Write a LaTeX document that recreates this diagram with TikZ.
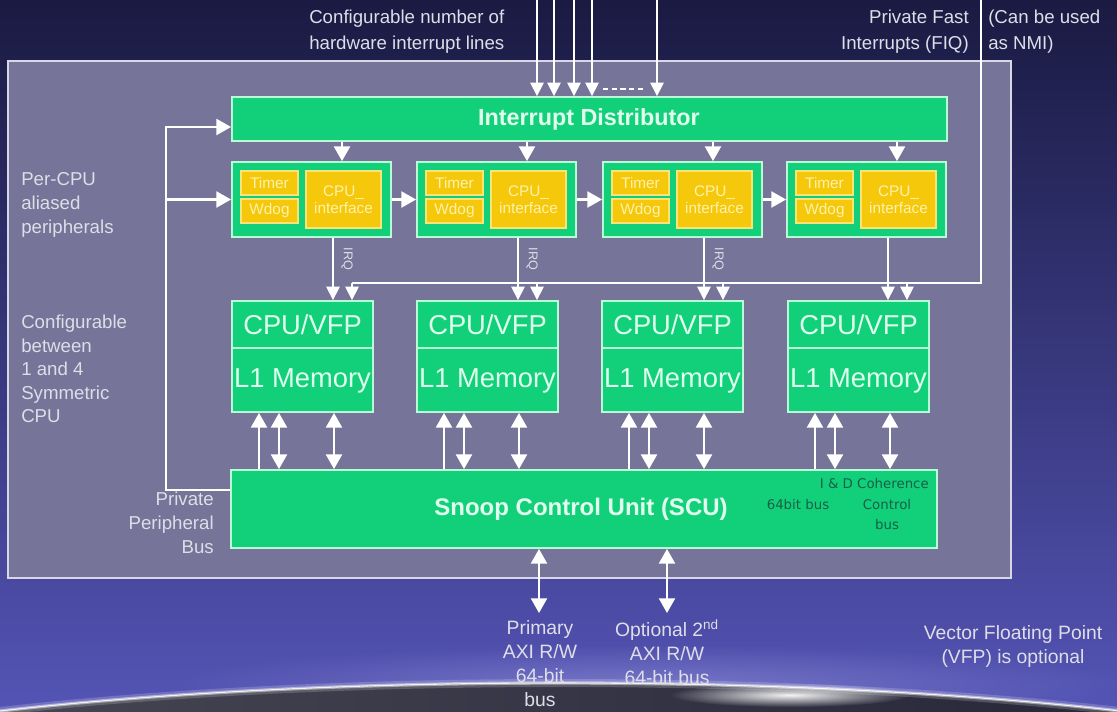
\documentclass[tikz,border=0pt]{standalone}
\usepackage{fontspec}
\setmainfont{Liberation Sans}
\newfontfamily\dejavu{DejaVu Sans}
\usetikzlibrary{arrows.meta,fit,fadings,calc}

\definecolor{skytop}{RGB}{26,26,66}
\definecolor{skymid}{RGB}{55,55,140}
\definecolor{skybot}{RGB}{84,84,182}
\definecolor{earthl}{RGB}{78,78,90}
\definecolor{earthr}{RGB}{30,30,50}
\definecolor{haze}{RGB}{160,160,225}
\definecolor{panelgray}{RGB}{118,116,152}
\definecolor{panelline}{RGB}{215,215,230}
\definecolor{chipgreen}{RGB}{18,208,122}
\definecolor{chipedge}{RGB}{185,250,215}
\definecolor{chiptext}{RGB}{225,255,238}
\definecolor{gold}{RGB}{245,200,12}
\definecolor{goldedge}{RGB}{250,228,120}
\definecolor{goldtext}{RGB}{255,242,170}
\definecolor{labelgray}{RGB}{222,222,232}
\definecolor{busink}{RGB}{22,95,72}

\tikzfading[name=glowfade, inner color=transparent!0, outer color=transparent!100]

\begin{document}
\begin{tikzpicture}[x=0.75pt, y=-0.75pt,
  >={Triangle[width=12pt,length=11pt]},
  greenbox/.style={draw=chipedge, fill=chipgreen, line width=1.4pt, inner sep=0pt},
  goldbox/.style={draw=goldedge, fill=gold, line width=0.8pt, inner sep=0pt},
  goldtag/.style={text=goldtext, font=\fontsize{11.5}{12.5}\selectfont, align=center, inner sep=0pt},
  cputext/.style={text=chiptext, font=\fontsize{20.5}{22}\selectfont, inner sep=0pt},
  conn/.style={draw=white, line width=1.6pt},
  thinline/.style={draw=white, line width=1.1pt},
  arr/.style={conn, ->},
  darr/.style={conn, <->},
  thinarr/.style={thinline, -{Triangle[width=10pt,length=10pt]}},
  note/.style={text=labelgray, font=\fontsize{14}{19.5}\selectfont, inner sep=0pt},
  busnote/.style={text=busink, font=\dejavu\fontsize{10}{15}\selectfont, inner sep=0pt},
  irqtag/.style={text=labelgray, font=\fontsize{9.5}{10}\selectfont, inner sep=0pt, rotate=-90},
]
% ---------- backdrop ----------
\useasboundingbox (0,0) rectangle (1117,711);
\clip (0,0) rectangle (1117,711);
\shade[top color=skytop, middle color=skymid, bottom color=skybot] (0,0) rectangle (1117,711);

% planet horizon with glowing rim
\fill[haze, path fading=glowfade, opacity=0.45] (650,684) ellipse (480 and 40);
\shade[left color=earthl, middle color=black, right color=earthr] (560,812) ellipse (900 and 129);
\draw[white, opacity=0.18, line width=6pt] (560,812) ellipse (900 and 129);
\draw[white, opacity=0.45, line width=2.5pt] (560,812) ellipse (900 and 129);
\draw[white, opacity=0.85, line width=0.8pt] (560,812) ellipse (900 and 129);
\fill[white, path fading=glowfade, opacity=0.95] (790,695) ellipse (120 and 12);

% ---------- chip outline ----------
\node[fit={(8,61)(1011,578)}, inner sep=0pt, draw=panelline, line width=0.8pt, fill=panelgray] (panel) {};

% ---------- interrupt distributor ----------
\node[greenbox, fit={(232,97)(947,141)}] (id) {};
\node[text=chiptext, font=\bfseries\fontsize{17.5}{20}\selectfont, inner sep=0pt] (idtext) at (589,119) {Interrupt Distributor};

% ---------- per-CPU peripheral blocks ----------
\foreach \i/\L in {1/232,2/417,3/603,4/787}{
  \node[greenbox, fit={(\L,162)(\L+159,237)}] (pc\i) {};
  \node[goldbox, fit={(\L+9,171)(\L+66,195)}] (tm\i) {};
  \node[goldbox, fit={(\L+9,199)(\L+66,223)}] (wd\i) {};
  \node[goldbox, fit={(\L+74,171)(\L+149,228)}] (ci\i) {};
  \node[goldtag] (tmt\i) at (tm\i.center) {Timer};
  \node[goldtag] (wdt\i) at (wd\i.center) {Wdog};
  \node[goldtag] (cit\i) at (ci\i.center) {CPU\_\\interface};
}

% ---------- CPU cores ----------
\foreach \i/\L in {1/232,2/417,3/602,4/788}{
  \node[greenbox, fit={(\L,301)(\L+141,412)}] (cpu\i) {};
  \draw[chipedge, line width=1.2pt] (\L,348) -- (\L+141,348);
  \node[cputext] (cv\i) at (\L+70.5,325) {CPU/VFP};
  \node[cputext] (lm\i) at (\L+70.5,381) {L1 Memory};
}

% ---------- snoop control unit ----------
\node[greenbox, fit={(231,470)(937,548)}] (scu) {};
\node[text=chiptext, font=\bfseries\fontsize{18}{20}\selectfont, inner sep=0pt] (scutext) at (581,509) {Snoop Control Unit (SCU)};
\node[busnote, anchor=east] (coh) at (929,484) {I \& D Coherence};
\node[busnote] (b64) at (798,505) {64bit bus};
\node[busnote, align=center] (ctl) at (887,515) {Control\\bus};

% ---------- external interrupt lines ----------
\foreach \k/\x in {1/537,2/554,3/574,4/592,5/657}{
  \coordinate (hw\k) at (\x,0);
  \draw[thinarr] (hw\k) -- (hw\k |- id.north);
}
\draw[white, line width=2.2pt, dash pattern=on 4pt off 2.5pt] (603,89) -- (645,89);

% ---------- distributor to per-CPU, IRQ and FIQ ----------
\foreach \i/\L in {1/232,2/417,3/603,4/787}{
  \coordinate (dn\i) at (\L+110,0);
  \draw[arr] (dn\i |- id.south) -- (dn\i |- pc\i.north);
  \coordinate (irq\i) at (\L+101,0);
  \draw[thinarr] (irq\i |- pc\i.south) -- (irq\i |- cpu\i.north);
  \coordinate (fq\i) at (\L+120,283);
  \draw[thinarr] (fq\i) -- (fq\i |- cpu\i.north);
}
\foreach \i/\L in {1/232,2/417,3/603}{
  \node[irqtag] (irqt\i) at (\L+115,259) {IRQ};
}
\coordinate (fiqin) at (981,0);
\coordinate (fiqturn) at (981,283);
\draw[thinline] (fiqin) -- (fiqturn) -- (fq1);

% per-CPU chaining
\foreach \a/\b in {1/2,2/3,3/4}{
  \draw[arr] (pc\a.east) -- (pc\b.west);
}

% ---------- private peripheral bus ----------
\coordinate (ppb) at (166,490);
\coordinate (ppbtop) at (166,127);
\draw[arr] (scu.west |- ppb) -- (ppb) -- (ppbtop) -- (ppbtop -| id.west);
\draw[arr] (ppb |- pc1.west) -- (pc1.west);

% ---------- CPU <-> SCU ----------
\foreach \i/\L in {1/232,2/417,3/602,4/788}{
  \coordinate (ma\i) at (\L+27,0);
  \coordinate (mb\i) at (\L+47,0);
  \coordinate (mc\i) at (\L+102,0);
  \draw[arr] (ma\i |- scu.north) -- (ma\i |- cpu\i.south);
  \draw[darr] (mb\i |- scu.north) -- (mb\i |- cpu\i.south);
  \draw[darr] (mc\i |- scu.north) -- (mc\i |- cpu\i.south);
}

% ---------- AXI buses ----------
\coordinate (axi1) at (539,613);
\coordinate (axi2) at (667,613);
\draw[darr] (axi1 |- scu.south) -- (axi1);
\draw[darr] (axi2 |- scu.south) -- (axi2);

% ---------- annotations ----------
\node[note, align=left, anchor=west] (hwlines) at (309,32) {Configurable number of\\hardware interrupt lines};
\node[note, align=right, anchor=east] (fiqnote) at (969,32) {Private Fast\\Interrupts (FIQ)};
\node[note, align=left, anchor=west] (nminote) at (988,32) {(Can be used\\as NMI)};
\node[note, align=left, anchor=west, font=\fontsize{14}{18}\selectfont] (percpu) at (21,205) {Per-CPU\\aliased\\peripherals};
\node[note, align=left, anchor=west, font=\fontsize{14}{17.6}\selectfont] (symcpu) at (21,369) {Configurable\\between\\1 and 4\\Symmetric\\CPU};
\node[note, align=right, anchor=east, font=\fontsize{14}{18}\selectfont] (ppbnote) at (214,523) {Private\\Peripheral\\Bus};
\node[note, align=center, font=\fontsize{14.5}{18}\selectfont] (axi1note) at (540,664) {Primary\\AXI R/W\\64-bit\\bus};
\node[note, align=center, font=\fontsize{14.5}{18}\selectfont] (axi2note) at (667,652) {Optional 2\textsuperscript{nd}\\AXI R/W\\64-bit bus};
\node[note, align=center, font=\fontsize{14.5}{18}\selectfont] (vfpnote) at (1013,646) {Vector Floating Point\\(VFP) is optional};
\end{tikzpicture}
\end{document}
